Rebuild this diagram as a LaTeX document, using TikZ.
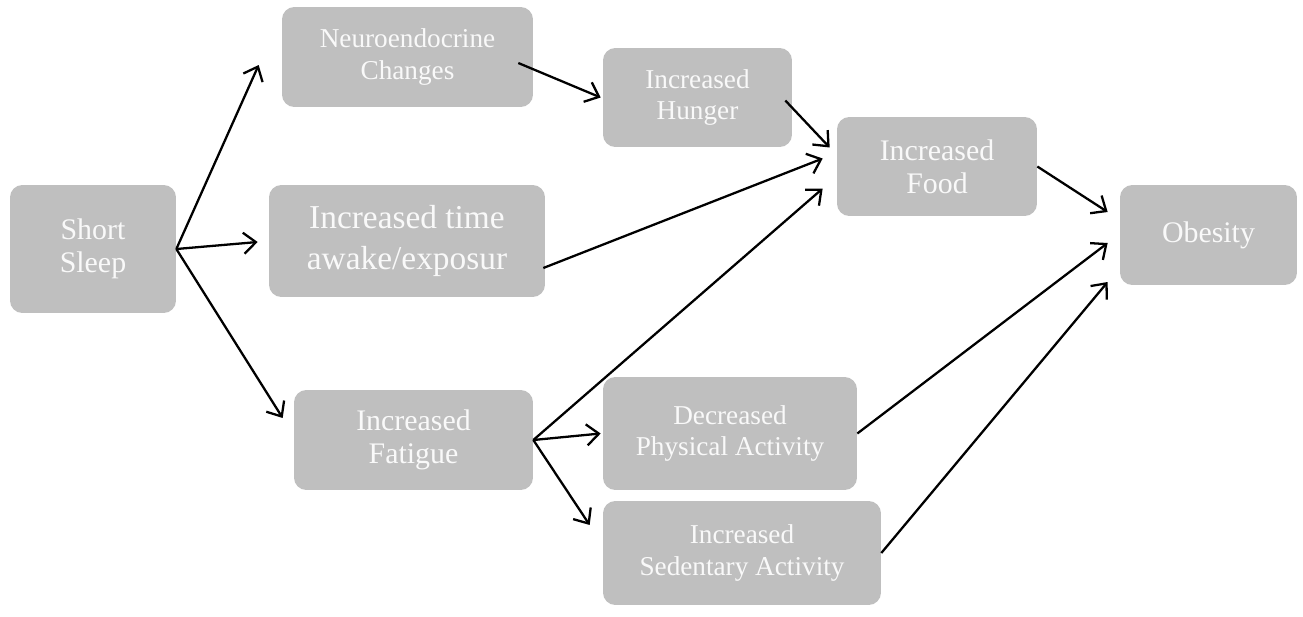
\documentclass[tikz,border=0pt]{standalone}
\usepackage{fontspec}
\setmainfont{Liberation Serif}
\usepackage{tikz}
\usetikzlibrary{arrows.meta}

\definecolor{boxgray}{RGB}{191,191,191}
\definecolor{boxtext}{RGB}{249,249,249}

\begin{document}
\begin{tikzpicture}[
    x=0.02cm, y=-0.02cm,
    box/.style={fill=boxgray, rounded corners=7pt, text=boxtext, align=center, inner sep=2pt},
    big/.style={font=\fontsize{17}{19}\selectfont},
    small/.style={font=\fontsize{15.5}{18}\selectfont},
    link/.style={-{Straight Barb[length=7pt,width=12pt]}, line width=1.3pt}
]
  \useasboundingbox (0,0) rectangle (1303,616);

  % Left column
  \node[box, big, minimum width=3.32cm, minimum height=2.56cm] (short) at (93,249) {Short\\Sleep};

  % Middle column (causes)
  \node[box, small, minimum width=5.02cm, minimum height=2.0cm] (neuro) at (407.5,57) {Neuroendocrine\\Changes};
  \node[box, font=\fontsize{19}{23}\selectfont, minimum width=5.52cm, minimum height=2.24cm] (awake) at (407,241) {Increased time\\awake/exposur};
  \node[box, big, minimum width=4.78cm, minimum height=2.0cm] (fatigue) at (413.5,440) {Increased\\Fatigue};

  % Behaviours
  \node[box, small, minimum width=3.78cm, minimum height=1.98cm] (hunger) at (697.5,97.5) {Increased\\Hunger};
  \node[box, small, minimum width=5.08cm, minimum height=2.26cm] (physical) at (730,433.5) {Decreased\\Physical Activity};
  \node[box, small, minimum width=5.56cm, minimum height=2.08cm] (sedentary) at (742,553) {Increased\\Sedentary Activity};
  \node[box, big, minimum width=4.0cm, minimum height=1.98cm] (food) at (937,166.5) {Increased\\Food};

  % Outcome
  \node[box, big, minimum width=3.54cm, minimum height=2.0cm] (obesity) at (1208.5,235) {Obesity};

  % Arrows
  \draw[link] (short.east) -- ([shift={(-23,8)}]neuro.west);
  \draw[link] (short.east) -- ([shift={(-11,1)}]awake.west);
  \draw[link] (short.east) -- ([shift={(-11,-22)}]fatigue.west);
  \draw[link] ([shift={(-15,6)}]neuro.east) -- ([shift={(-2,0)}]hunger.west);
  \draw[link] ([shift={(-7,3)}]hunger.east) -- ([shift={(-7,-19)}]food.west);
  \draw[link] ([shift={(-2,27)}]awake.east) -- ([shift={(-14,-8)}]food.west);
  \draw[link] (fatigue.east) -- ([shift={(-14,22)}]food.west);
  \draw[link] (fatigue.east) -- ([shift={(-2,0)}]physical.west);
  \draw[link] (fatigue.east) -- ([shift={(-13,-28)}]sedentary.west);
  \draw[link] (food.east) -- ([shift={(-12,-23)}]obesity.west);
  \draw[link] (physical.east) -- ([shift={(-12,8)}]obesity.west);
  \draw[link] (sedentary.east) -- ([shift={(-12,47)}]obesity.west);

\end{tikzpicture}
\end{document}
